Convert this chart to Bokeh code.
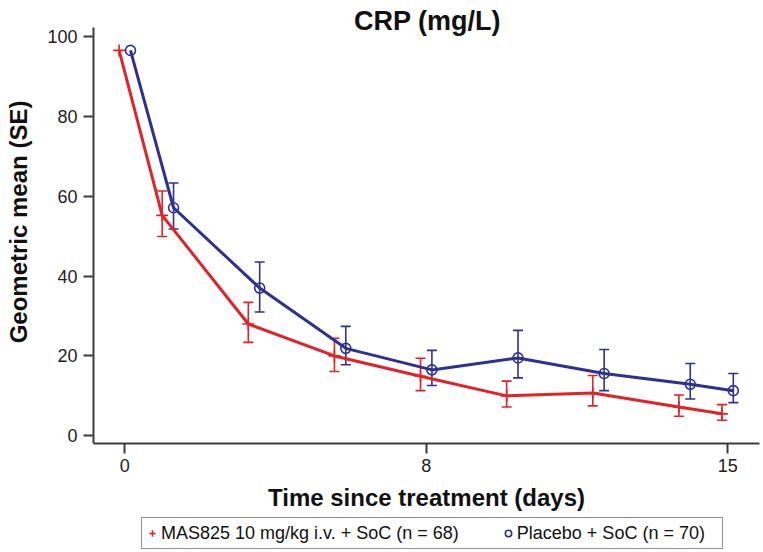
import numpy as np
from bokeh.plotting import figure
from bokeh.layouts import column
from bokeh.models import (ColumnDataSource, Range1d, FixedTicker, Whisker, TeeHead,
                          Legend, LegendItem, Label)
from bokeh.transform import dodge
from bokeh.embed import file_html
from bokeh.resources import INLINE

# ---- data ----
visit_pos = [0, 1, 3, 5, 7, 9, 11, 13, 14]
tick_pos = [0, 7, 14]
tick_labels = ["0", "8", "15"]
y_ticks = [0, 20, 40, 60, 80, 100]

mas_mean = [96.5, 55.2, 28.0, 20.0, 14.9, 10.0, 10.7, 7.2, 5.5]
mas_upper = [None, 61.3, 33.4, 24.4, 19.4, 13.7, 15.1, 10.2, 7.8]
mas_lower = [None, 49.9, 23.4, 16.1, 11.3, 7.2, 7.5, 4.9, 3.9]

pbo_mean = [96.5, 57.1, 37.0, 21.9, 16.5, 19.5, 15.6, 12.9, 11.3]
pbo_upper = [None, 63.3, 43.5, 27.4, 21.4, 26.4, 21.6, 18.1, 15.6]
pbo_lower = [None, 51.8, 31.0, 17.8, 12.6, 14.5, 11.3, 9.2, 8.3]

labels = ["MAS825 10 mg/kg i.v. + SoC (n = 68)", "Placebo + SoC (n = 70)"]

RED = "#E32228"
BLUE = "#2E3192"
AXIS = "#3C3C3C"
FONT = "Liberation Sans"
OFF = 0.132

src_mas = ColumnDataSource(dict(x=visit_pos, y=mas_mean))
src_pbo = ColumnDataSource(dict(x=visit_pos, y=pbo_mean))

def err_source(lo, hi):
    idx = [i for i, v in enumerate(hi) if v is not None]
    return ColumnDataSource(dict(x=[visit_pos[i] for i in idx],
                                 lower=[lo[i] for i in idx],
                                 upper=[hi[i] for i in idx]))

err_mas = err_source(mas_lower, mas_upper)
err_pbo = err_source(pbo_lower, pbo_upper)

p = figure(width=763, height=516, output_backend="svg", toolbar_location=None,
           x_range=Range1d(-0.727, 14.74), y_range=Range1d(-1.93, 109.0),
           min_border_left=93, min_border_right=4, min_border_top=0,
           min_border_bottom=73)
p.grid.visible = False
p.outline_line_color = None
p.background_fill_color = "white"
p.border_fill_color = "white"

# error bars
for src, col, off in [(err_mas, RED, -OFF), (err_pbo, BLUE, OFF)]:
    w = Whisker(source=src, base=dodge("x", off), upper="upper", lower="lower",
                dimension="height", line_color=col, line_width=1.6,
                upper_head=TeeHead(size=10, line_color=col, line_width=1.6),
                lower_head=TeeHead(size=10, line_color=col, line_width=1.6))
    p.add_layout(w)

p.line(x=dodge("x", -OFF), y="y", source=src_mas, line_color=RED, line_width=3)
p.scatter(x=dodge("x", -OFF), y="y", source=src_mas, marker="cross", size=12,
          line_color=RED, line_width=1.6)
p.line(x=dodge("x", OFF), y="y", source=src_pbo, line_color=BLUE, line_width=3)
p.scatter(x=dodge("x", OFF), y="y", source=src_pbo, marker="circle", size=10,
          line_color=BLUE, fill_color=None, line_width=1.6)

# axes
for ax in (p.xaxis[0], p.yaxis[0]):
    ax.axis_line_color = AXIS
    ax.axis_line_width = 2
    ax.major_tick_line_color = AXIS
    ax.major_tick_line_width = 2
    ax.major_tick_out = 10
    ax.major_tick_in = 0
    ax.minor_tick_line_color = None
    ax.major_label_text_font = FONT
    ax.major_label_text_font_size = "18px"
    ax.major_label_text_color = "#222222"
    ax.axis_label_text_font = FONT
    ax.axis_label_text_font_size = "24px"
    ax.axis_label_text_font_style = "bold"
    ax.axis_label_text_color = "#111111"

p.xaxis.ticker = FixedTicker(ticks=tick_pos)
p.xaxis.major_label_overrides = {t: l for t, l in zip(tick_pos, tick_labels)}
p.xaxis.major_label_standoff = 5
p.xaxis.axis_label = "Time since treatment (days)"
p.xaxis.axis_label_standoff = 9

p.yaxis.ticker = FixedTicker(ticks=y_ticks)
p.yaxis.bounds = (-1.93, 102.3)
p.yaxis.major_label_standoff = 6
p.yaxis.axis_label = "Geometric mean (SE)"
p.yaxis.axis_label_standoff = 12

# title drawn inside the (tall) frame, above the bounded y axis
title = Label(x=334, y=423, x_units="screen", y_units="screen", text="CRP (mg/L)",
              text_font=FONT, text_font_size="27px", text_font_style="bold",
              text_align="center", text_baseline="middle", text_color="#111111")
p.add_layout(title)

# legend strip below the chart (its renderers sit outside its visible range)
lg = figure(width=763, height=36, output_backend="svg", toolbar_location=None,
            x_axis_location=None, y_axis_location=None, min_border=0,
            x_range=Range1d(-1.0, 15.0), y_range=Range1d(1000, 1001))
lg.grid.visible = False
lg.outline_line_color = None
d_mas = lg.scatter(x="x", y="y", source=src_mas, marker="cross",
                   line_color=RED, line_width=1.6)
d_pbo = lg.scatter(x="x", y="y", source=src_pbo, marker="circle",
                   line_color=BLUE, fill_color=None, line_width=1.6)
legend = Legend(items=[LegendItem(label=labels[0], renderers=[d_mas]),
                       LegendItem(label=labels[1], renderers=[d_pbo])],
                orientation="horizontal", location=(48, 3),
                glyph_width=16, glyph_height=26, label_standoff=1, spacing=41,
                padding=2, margin=0, label_width=203,
                label_text_font=FONT, label_text_font_size="18px",
                label_text_color="#111111",
                border_line_color="#222222", border_line_width=1.5,
                background_fill_color="white")
lg.add_layout(legend)

open("out.html", "w").write(file_html(column(p, lg), INLINE))
